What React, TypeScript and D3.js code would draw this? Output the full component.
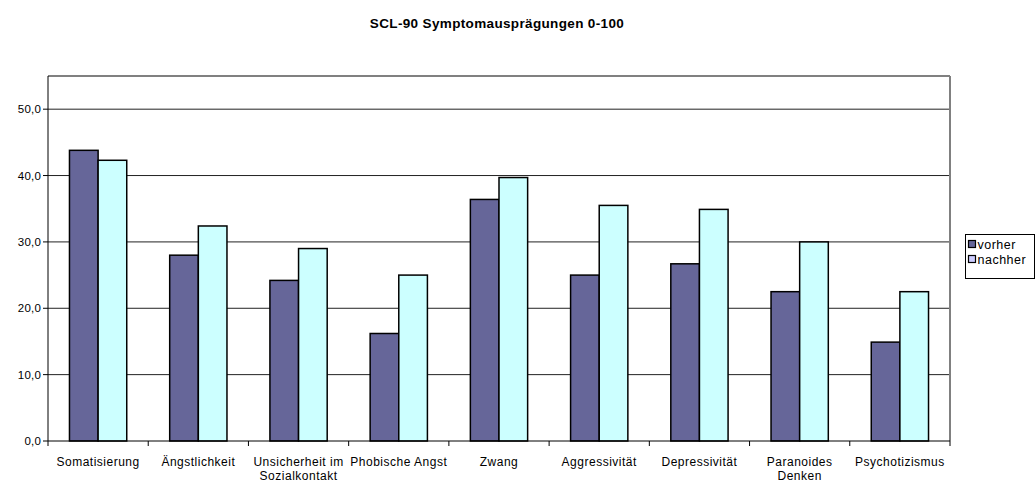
import * as d3 from 'd3';

const categories = [
  'Somatisierung',
  'Ängstlichkeit',
  'Unsicherheit im|Sozialkontakt',
  'Phobische Angst',
  'Zwang',
  'Aggressivität',
  'Depressivität',
  'Paranoides|Denken',
  'Psychotizismus',
];
const vorher = [43.8, 28.0, 24.2, 16.2, 36.4, 25.0, 26.7, 22.5, 14.9];
const nachher = [42.3, 32.4, 29.0, 25.0, 39.7, 35.5, 34.9, 30.0, 22.5];
const seriesNames = ['vorher', 'nachher'];
const yTicks = [0, 10, 20, 30, 40, 50];

const W = 1036;
const H = 486;
const left = 48;
const right = 950;
const top = 76;
const bottom = 441;
const font = '"Liberation Sans", Arial, sans-serif';
const barColors = ['#666699', '#CCFFFF'];
const legendColors = ['#666699', '#CCCCFF'];

export default function App() {
  const x = d3.scaleBand<number>().domain(d3.range(categories.length)).range([left, right]).padding(0);
  const inner = d3
    .scaleBand<number>()
    .domain([0, 1])
    .range([0, x.bandwidth()])
    .paddingInner(0)
    .paddingOuter(0.75);
  const y = d3.scaleLinear().domain([0, 55]).range([bottom, top]);
  const series = [vorher, nachher];
  const fmt = (v: number) => d3.format('.1f')(v).replace('.', ',');

  return (
    <svg
      width={W}
      height={H}
      style={{ position: 'absolute', left: 0, top: 0, background: '#fff' }}
      fontFamily={font}
    >
      <text x={497} y={28} textAnchor="middle" fontSize={13.5} fontWeight="bold" letterSpacing={0.35}>
        SCL-90 Symptomausprägungen 0-100
      </text>

      {/* gridlines */}
      {yTicks.filter((t) => t > 0).map((t) => (
        <line key={t} x1={left} x2={right} y1={y(t)} y2={y(t)} stroke="#222" strokeWidth={1} />
      ))}

      {/* frame top/right */}
      <line x1={left} x2={right} y1={top} y2={top} stroke="#808080" strokeWidth={2} />
      <line x1={right} x2={right} y1={top} y2={bottom} stroke="#808080" strokeWidth={2} />

      {/* bars */}
      {series.map((vals, si) =>
        vals.map((v, i) => (
          <rect
            key={`${si}-${i}`}
            x={(x(i) as number) + (inner(si) as number)}
            y={y(v)}
            width={inner.bandwidth()}
            height={y(0) - y(v)}
            fill={barColors[si]}
            stroke="#000"
            strokeWidth={1.5}
          />
        ))
      )}

      {/* y axis */}
      <line x1={left} x2={left} y1={top} y2={bottom} stroke="#000" strokeWidth={1} />
      {yTicks.map((t) => (
        <g key={t}>
          <line x1={left - 5} x2={left} y1={y(t)} y2={y(t)} stroke="#000" />
          <text x={left - 7} y={y(t) + 4} textAnchor="end" fontSize={11.5} letterSpacing={0.2}>
            {fmt(t)}
          </text>
        </g>
      ))}

      {/* x axis */}
      <line x1={left} x2={right} y1={bottom} y2={bottom} stroke="#000" strokeWidth={1} />
      {d3.range(categories.length + 1).map((i) => {
        const xp = i < categories.length ? (x(i) as number) : right;
        return <line key={i} x1={xp} x2={xp} y1={bottom} y2={bottom + 5} stroke="#000" />;
      })}
      {categories.map((c, i) => {
        const cx = (x(i) as number) + x.bandwidth() / 2;
        return (
          <text key={c} x={cx} y={466} textAnchor="middle" fontSize={12} letterSpacing={0.5}>
            {c.split('|').map((line, li) => (
              <tspan key={li} x={cx} dy={li === 0 ? 0 : 13.5}>
                {line}
              </tspan>
            ))}
          </text>
        );
      })}

      {/* legend */}
      <rect x={965.5} y={234.5} width={69} height={44} fill="#fff" stroke="#000" strokeWidth={1} />
      {seriesNames.map((s, i) => (
        <g key={s} transform={`translate(968, ${245 + i * 15})`}>
          <rect x={0.5} y={-4.5} width={7} height={7} fill={legendColors[i]} stroke="#000" strokeWidth={1.2} />
          <text x={9.5} y={4} fontSize={12.5} letterSpacing={0.5}>
            {s}
          </text>
        </g>
      ))}
    </svg>
  );
}
